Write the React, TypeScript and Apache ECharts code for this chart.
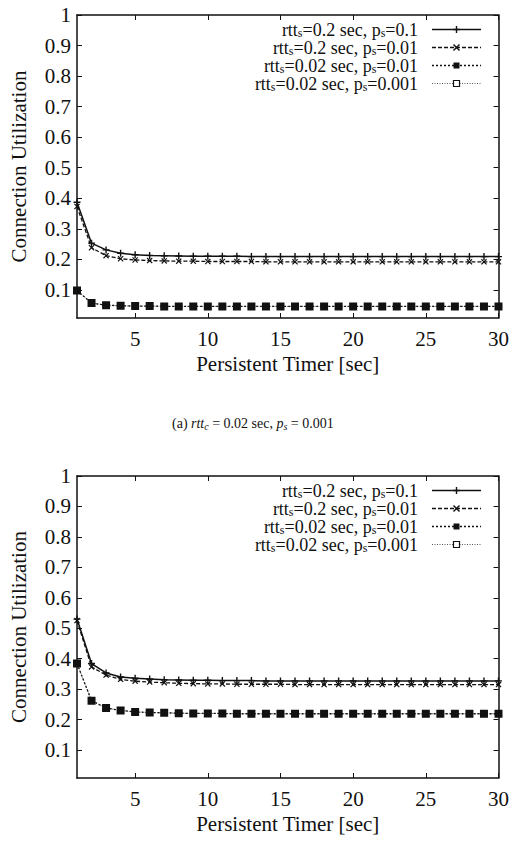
import React, { useEffect, useRef } from 'react';
import * as echarts from 'echarts';

const xValues = [1, 2, 3, 4, 5, 6, 7, 8, 9, 10, 11, 12, 13, 14, 15, 16, 17, 18, 19, 20, 21, 22, 23, 24, 25, 26, 27, 28, 29, 30];

// Top chart (a)
const topS1 = [0.387, 0.253, 0.231, 0.220, 0.215, 0.213, 0.212, 0.211, 0.210, 0.210, 0.210, 0.210, 0.209, 0.209, 0.209, 0.209, 0.209, 0.209, 0.209, 0.209, 0.209, 0.209, 0.209, 0.209, 0.209, 0.209, 0.209, 0.209, 0.209, 0.209];
const topS2 = [0.373, 0.238, 0.212, 0.202, 0.198, 0.196, 0.195, 0.194, 0.194, 0.193, 0.193, 0.193, 0.193, 0.192, 0.192, 0.192, 0.192, 0.192, 0.192, 0.192, 0.192, 0.192, 0.192, 0.192, 0.192, 0.192, 0.192, 0.192, 0.192, 0.192];
const topS3 = [0.098, 0.057, 0.050, 0.048, 0.047, 0.047, 0.046, 0.046, 0.046, 0.046, 0.046, 0.046, 0.046, 0.046, 0.046, 0.046, 0.046, 0.046, 0.046, 0.046, 0.046, 0.046, 0.046, 0.046, 0.046, 0.046, 0.046, 0.046, 0.046, 0.046];
const topS4 = [0.098, 0.057, 0.050, 0.048, 0.047, 0.047, 0.046, 0.046, 0.046, 0.046, 0.046, 0.046, 0.046, 0.046, 0.046, 0.046, 0.046, 0.046, 0.046, 0.046, 0.046, 0.046, 0.046, 0.046, 0.046, 0.046, 0.046, 0.046, 0.046, 0.046];

// Bottom chart
const botS1 = [0.530, 0.384, 0.353, 0.340, 0.336, 0.333, 0.331, 0.330, 0.329, 0.329, 0.328, 0.328, 0.328, 0.327, 0.327, 0.327, 0.327, 0.327, 0.327, 0.327, 0.327, 0.327, 0.327, 0.327, 0.327, 0.327, 0.327, 0.327, 0.327, 0.327];
const botS2 = [0.525, 0.373, 0.346, 0.332, 0.326, 0.323, 0.321, 0.319, 0.318, 0.317, 0.317, 0.316, 0.316, 0.316, 0.316, 0.315, 0.315, 0.315, 0.315, 0.315, 0.315, 0.315, 0.315, 0.315, 0.315, 0.315, 0.315, 0.315, 0.315, 0.315];
const botS3 = [0.384, 0.262, 0.238, 0.230, 0.225, 0.223, 0.222, 0.221, 0.220, 0.220, 0.220, 0.219, 0.219, 0.219, 0.219, 0.219, 0.219, 0.219, 0.219, 0.219, 0.219, 0.219, 0.219, 0.219, 0.219, 0.219, 0.219, 0.219, 0.219, 0.219];
const botS4 = [0.384, 0.262, 0.238, 0.230, 0.225, 0.223, 0.222, 0.221, 0.220, 0.220, 0.220, 0.219, 0.219, 0.219, 0.219, 0.219, 0.219, 0.219, 0.219, 0.219, 0.219, 0.219, 0.219, 0.219, 0.219, 0.219, 0.219, 0.219, 0.219, 0.219];

const xTicks = [5, 10, 15, 20, 25, 30];
const yTicks = [0.1, 0.2, 0.3, 0.4, 0.5, 0.6, 0.7, 0.8, 0.9, 1];
const xMin = 1;
const xMax = 30;
const yMin = 0.008;
const yMax = 1;

const legendRtt = ['0.2', '0.2', '0.02', '0.02'];
const legendP = ['0.1', '0.01', '0.01', '0.001'];

const xTitle = 'Persistent Timer [sec]';
const yTitle = 'Connection Utilization';

const FONT = "'Liberation Serif', 'Times New Roman', serif";
const INK = '#111';

const PLUS = 'path://M4,0H6V4H10V6H6V10H4V6H0V4H4Z';
const CROSS = 'path://M1.4,0L5,3.6L8.6,0L10,1.4L6.4,5L10,8.6L8.6,10L5,6.4L1.4,10L0,8.6L3.6,5L0,1.4Z';

const styles = [
  { dash: 'solid' as any, width: 1.5, color: INK, symbol: PLUS, size: 7 },
  { dash: [4, 2], width: 1.3, color: INK, symbol: CROSS, size: 6 },
  { dash: [2, 2], width: 1.3, color: INK, symbol: 'rect', size: 6 },
  { dash: [1, 1.5], width: 1, color: '#555', symbol: 'emptyRect', size: 6 },
];

const grids = [
  { left: 74, right: 11, top: 15, height: 303 },
  { left: 74, right: 11, top: 476, height: 302 },
];

function buildOption() {
  const xAxis: any[] = [];
  const yAxis: any[] = [];
  const series: any[] = [];
  const graphic: any[] = [];
  const allData = [
    [topS1, topS2, topS3, topS4],
    [botS1, botS2, botS3, botS4],
  ];
  const axisLine = { show: true, onZero: false, lineStyle: { color: INK, width: 1.5 } };
  grids.forEach((g, gi) => {
    xAxis.push({
      type: 'value', gridIndex: gi, min: xMin, max: xMax, position: 'bottom',
      axisLine, splitLine: { show: false },
      axisTick: { inside: true, length: 5, customValues: xTicks, lineStyle: { color: INK, width: 1 } },
      axisLabel: { customValues: xTicks, fontFamily: FONT, fontSize: 21, color: INK, margin: 10 },
      name: xTitle, nameLocation: 'middle', nameGap: 35,
      nameTextStyle: { fontFamily: FONT, fontSize: 21, color: INK },
    });
    xAxis.push({
      type: 'value', gridIndex: gi, min: xMin, max: xMax, position: 'top',
      axisLine, splitLine: { show: false },
      axisTick: { inside: true, length: 5, customValues: xTicks, lineStyle: { color: INK, width: 1 } },
      axisLabel: { show: false },
    });
    yAxis.push({
      type: 'value', gridIndex: gi, min: yMin, max: yMax, position: 'left',
      axisLine, splitLine: { show: false },
      axisTick: { inside: true, length: 5, customValues: yTicks, lineStyle: { color: INK, width: 1 } },
      axisLabel: { customValues: yTicks, fontFamily: FONT, fontSize: 21, color: INK, margin: 6 },
      name: yTitle, nameLocation: 'middle', nameGap: 48,
      nameTextStyle: { fontFamily: FONT, fontSize: 21, color: INK },
    });
    yAxis.push({
      type: 'value', gridIndex: gi, min: yMin, max: yMax, position: 'right',
      axisLine, splitLine: { show: false },
      axisTick: { inside: true, length: 5, customValues: yTicks, lineStyle: { color: INK, width: 1 } },
      axisLabel: { show: false },
    });
    const order = [3, 2, 1, 0];
    order.forEach((si) => {
      const st = styles[si];
      series.push({
        type: 'line',
        name: `g${gi}s${si}`,
        xAxisIndex: gi * 2,
        yAxisIndex: gi * 2,
        data: xValues.map((x, i) => [x, allData[gi][si][i]]),
        symbol: st.symbol,
        symbolSize: st.size,
        showSymbol: true,
        lineStyle: { color: st.color, width: st.width, type: st.dash },
        itemStyle: { color: INK, borderColor: INK, borderWidth: si === 3 ? 1 : 0 },
        z: 10 - si,
      });
    });

    // legend
    const rowY0 = g.top + 14.5;
    legendRtt.forEach((rtt, li) => {
      const y = rowY0 + li * 18;
      const st = styles[li];
      graphic.push({
        type: 'text', right: 512 - 418, top: y - 8.5,
        style: {
          text: `{n|rtt}{sub|s}{n|=${rtt} sec, p}{sub|s}{n|=${legendP[li]}}`,
          rich: {
            n: { fontFamily: FONT, fontSize: 18, lineHeight: 16, fill: INK },
            sub: { fontFamily: FONT, fontSize: 12, lineHeight: 10, fill: INK, padding: [6, 0, 0, 0] },
          },
        },
      });
      graphic.push({
        type: 'line', shape: { x1: 432, y1: y, x2: 481, y2: y },
        style: { stroke: st.color, lineWidth: st.width, lineDash: st.dash === 'solid' ? null : st.dash },
      });
      const cx = 456.5;
      if (li === 0) {
        graphic.push({ type: 'line', shape: { x1: cx - 3.5, y1: y, x2: cx + 3.5, y2: y }, style: { stroke: INK, lineWidth: 1.4 } });
        graphic.push({ type: 'line', shape: { x1: cx, y1: y - 3.5, x2: cx, y2: y + 3.5 }, style: { stroke: INK, lineWidth: 1.4 } });
      } else if (li === 1) {
        graphic.push({ type: 'line', shape: { x1: cx - 3, y1: y - 3, x2: cx + 3, y2: y + 3 }, style: { stroke: INK, lineWidth: 1.4 } });
        graphic.push({ type: 'line', shape: { x1: cx - 3, y1: y + 3, x2: cx + 3, y2: y - 3 }, style: { stroke: INK, lineWidth: 1.4 } });
      } else if (li === 2) {
        graphic.push({ type: 'rect', shape: { x: cx - 3, y: y - 3, width: 6, height: 6 }, style: { fill: INK } });
      } else {
        graphic.push({ type: 'rect', shape: { x: cx - 3, y: y - 3, width: 6, height: 6 }, style: { fill: '#fff', stroke: INK, lineWidth: 1.2 } });
      }
    });
  });

  graphic.push({
    type: 'text', left: 172, top: 415,
    style: {
      text: '{n|(a) }{i|rtt}{is|c}{n| = 0.02 sec, }{i|p}{is|s}{n| = 0.001}',
      rich: {
        n: { fontFamily: FONT, fontSize: 14, lineHeight: 16, fill: INK },
        i: { fontFamily: FONT, fontStyle: 'italic', fontSize: 14, lineHeight: 16, fill: INK },
        is: { fontFamily: FONT, fontStyle: 'italic', fontSize: 10, lineHeight: 10, fill: INK, padding: [6, 0, 0, 0] },
      },
    },
  });

  return {
    animation: false,
    backgroundColor: '#fff',
    grid: grids,
    xAxis,
    yAxis,
    series,
    graphic,
  };
}

export default function App() {
  const ref = useRef<HTMLDivElement>(null);
  useEffect(() => {
    const chart = echarts.init(ref.current!, null, { renderer: 'svg' });
    chart.setOption(buildOption() as any);
    return () => chart.dispose();
  }, []);
  return (
    <div
      ref={ref}
      style={{ position: 'fixed', left: 0, top: 0, width: 512, height: 852, background: '#fff' }}
    />
  );
}
